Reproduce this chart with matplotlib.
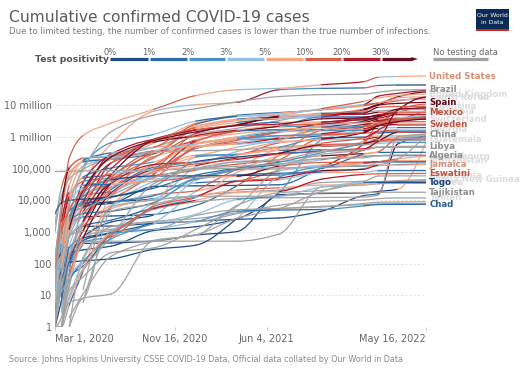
import datetime as dt
import numpy as np
import matplotlib
matplotlib.use("Agg")
import matplotlib.pyplot as plt
import matplotlib.dates as mdates
from matplotlib.collections import PathCollection
from matplotlib.colors import ListedColormap, BoundaryNorm, to_rgb
from matplotlib.patches import Rectangle, Polygon
from matplotlib.path import Path

# ---------------- data ----------------
knot_dates = ["2020-03-01", "2020-03-15", "2020-04-01", "2020-05-01", "2020-07-01",
              "2020-10-01", "2021-01-01", "2021-04-01", "2021-07-01", "2021-10-01",
              "2022-01-01", "2022-02-01", "2022-03-15", "2022-05-16"]

positivity_bins = [0, 1, 2, 3, 5, 10, 20, 30, 100]
positivity_labels = ["0%", "1%", "2%", "3%", "5%", "10%", "20%", "30%"]

ytick_values = [1, 10, 100, 1000, 10000, 100000, 1000000, 10000000]
ytick_labels = ["1", "10", "100", "1,000", "10,000", "100,000", "1 million", "10 million"]
xtick_dates = ["2020-03-01", "2020-11-16", "2021-06-04", "2022-05-16"]
xtick_labels = ["Mar 1, 2020", "Nov 16, 2020", "Jun 4, 2021", "May 16, 2022"]

# --- labelled countries (cumulative cases, test positivity %) ---
united_states = [70, 3.5e3, 215e3, 1.1e6, 2.7e6, 7.3e6, 20e6, 30.6e6, 33.7e6, 43.8e6, 54.9e6, 75.4e6, 79.6e6, 82.6e6]
united_states_pos = [None, 10, 15, 12, 6, 5, 12, 5, 3, 7, 20, 12, 3, 7]
brazil = [2, 200, 6.8e3, 92e3, 1.45e6, 4.8e6, 7.7e6, 12.8e6, 18.6e6, 21.4e6, 22.3e6, 25.5e6, 29.4e6, 30.7e6]
brazil_pos = None
spain = [84, 7.8e3, 102e3, 213e3, 250e3, 780e3, 1.93e6, 3.3e6, 3.8e6, 4.96e6, 7.46e6, 10.1e6, 11.3e6, 12.2e6]
spain_pos = [None, None, 30, 12, 3, 10, 12, 6, 5, 3, 14, 35, 30, 40]
mexico = [5, 41, 1.2e3, 20e3, 232e3, 750e3, 1.43e6, 2.25e6, 2.52e6, 3.68e6, 3.98e6, 4.94e6, 5.6e6, 5.75e6]
mexico_pos = [None, None, 8, 35, 45, 40, 45, 30, 25, 30, 40, 50, 20, 15]
sweden = [14, 1e3, 4.9e3, 21e3, 69e3, 94e3, 437e3, 830e3, 1.09e6, 1.15e6, 1.35e6, 2.2e6, 2.48e6, 2.5e6]
sweden_pos = [None, None, 15, 12, 10, 3, 12, 9, 2, 2, 15, 30, 20, 15]
china = [80e3, 81e3, 82e3, 84e3, 85e3, 90.5e3, 96e3, 101e3, 104e3, 108e3, 125e3, 130e3, 200e3, 1.2e6]
china_pos = None
libya = [None, None, 10, 61, 700, 33e3, 100e3, 165e3, 190e3, 340e3, 390e3, 460e3, 495e3, 502e3]
libya_pos = None
algeria = [1, 48, 716, 4.1e3, 14e3, 51e3, 99.6e3, 117e3, 140e3, 204e3, 219e3, 254e3, 265e3, 266e3]
algeria_pos = None
jamaica = [None, 13, 36, 470, 700, 6.4e3, 13e3, 40e3, 50e3, 85e3, 95e3, 126e3, 129e3, 133e3]
jamaica_pos = [None, None, None, 5, 2, 15, 10, 20, 12, 25, 30, 20, 8, 8]
eswatini = [None, 1, 9, 100, 800, 5.4e3, 9.9e3, 17.4e3, 19e3, 46e3, 65e3, 68e3, 69e3, 70e3]
eswatini_pos = [None, None, None, 3, 10, 10, 20, 5, 8, 25, 20, 15, 12, 15]
togo = [1, 1, 34, 120, 600, 1.8e3, 3.6e3, 10.5e3, 13.4e3, 26e3, 36e3, 36.8e3, 36.9e3, 37e3]
togo_pos = [None, None, None, 3, 2, 2, 3, 3, 2, 3, 3, 1, 0.5, 0.5]
tajikistan = [None, None, None, 15, 6.2e3, 10e3, 13.3e3, 13.3e3, 13.7e3, 17e3, 17.5e3, 17.7e3, 17.8e3, 17.8e3]
tajikistan_pos = None
chad = [None, None, 7, 73, 870, 1.2e3, 2.1e3, 4.5e3, 4.9e3, 5.1e3, 6.6e3, 7.3e3, 7.4e3, 7.4e3]
chad_pos = [None, None, None, 8, 5, 2, 3, 2, 1, 1, 2, 1.5, 1.5, 1.5]

# --- countries whose labels are hidden behind others (faded) ---
united_kingdom = [35, 1.4e3, 30e3, 180e3, 315e3, 470e3, 2.5e6, 4.35e6, 4.85e6, 7.8e6, 13.2e6, 16.8e6, 20.0e6, 22.2e6]
united_kingdom_pos = [None, None, 12, 8, 1, 3, 10, 1, 3, 4, 12, 8, 6, 8]
south_korea = [3.7e3, 8.2e3, 9.9e3, 10.8e3, 12.9e3, 23.9e3, 61.8e3, 103e3, 158e3, 316e3, 635e3, 880e3, 6.9e6, 17.8e6]
south_korea_pos = [2, 1.5, 1, 0.5, 0.5, 0.5, 1, 1, 1.5, 2, 2.5, 15, 40, 30]
argentina = [None, 45, 1.05e3, 4.4e3, 65e3, 780e3, 1.63e6, 2.38e6, 4.5e6, 5.26e6, 5.6e6, 8.5e6, 9.0e6, 9.1e6]
argentina_pos = [None, None, 3, 4, 20, 50, 20, 20, 35, 5, 40, 50, 15, 10]
colombia = [None, 34, 1.07e3, 7e3, 98e3, 835e3, 1.64e6, 2.43e6, 4.2e6, 4.96e6, 5.14e6, 5.9e6, 6.08e6, 6.09e6]
colombia_pos = [None, None, 3, 5, 15, 20, 25, 15, 30, 5, 20, 30, 10, 5]
switzerland = [24, 2.2e3, 17.7e3, 29.7e3, 31.7e3, 53e3, 455e3, 590e3, 703e3, 844e3, 1.37e6, 2.24e6, 3.0e6, 3.6e6]
switzerland_pos = [None, None, 20, 3, 1, 3, 15, 6, 3, 5, 30, 40, 35, 30]
georgia = [3, 33, 110, 540, 940, 6.8e3, 230e3, 283e3, 389e3, 629e3, 935e3, 1.45e6, 1.64e6, 1.65e6]
georgia_pos = [None, 1, 1, 1, 0.5, 2, 8, 2, 5, 8, 12, 25, 10, 3]
guatemala = [None, 1, 39, 640, 17e3, 93e3, 139e3, 194e3, 303e3, 560e3, 625e3, 750e3, 810e3, 845e3]
guatemala_pos = [None, None, None, 10, 40, 20, 15, 15, 25, 30, 10, 40, 15, 10]
luxembourg = [None, 77, 2.2e3, 3.8e3, 4.5e3, 8.3e3, 46e3, 63e3, 71e3, 77e3, 100e3, 160e3, 200e3, 245e3]
luxembourg_pos = [None, 5, 5, 2, 1, 1, 2, 2, 1, 1, 3, 5, 10, 8]
afghanistan = [1, 16, 174, 2.2e3, 31.5e3, 39.3e3, 52e3, 56.9e3, 118e3, 155e3, 158e3, 164e3, 176e3, 179e3]
afghanistan_pos = [None, None, None, None, 40, 5, 10, 8, 40, 10, 10, 20, 10, 8]
mauritania = [None, 1, 6, 8, 4.5e3, 7.5e3, 14e3, 18e3, 21e3, 36e3, 40e3, 58e3, 58.6e3, 58.7e3]
mauritania_pos = None
guinea = [None, 1, 22, 1.5e3, 5.4e3, 10.7e3, 13.7e3, 21e3, 24.6e3, 30e3, 31e3, 35.6e3, 36.4e3, 36.5e3]
guinea_pos = [None, None, None, None, 15, 5, 3, 5, 10, 8, 5, 8, 2, 1]
papua_new_guinea = [None, None, 1, 8, 11, 540, 780, 6.9e3, 17.2e3, 20.3e3, 35e3, 37.5e3, 41.5e3, 44e3]
papua_new_guinea_pos = None
yemen = [None, None, None, 6, 1.1e3, 2.04e3, 2.1e3, 3.8e3, 6.9e3, 9.3e3, 10.1e3, 11.2e3, 11.8e3, 11.8e3]
yemen_pos = None

# --- other countries (unlabelled) ---
italy = [1.7e3, 24.7e3, 110e3, 206e3, 240e3, 314e3, 2.1e6, 3.6e6, 4.26e6, 4.67e6, 6.4e6, 10.9e6, 13.6e6, 17.1e6]
italy_pos = [None, None, 15, 5, 1, 2, 10, 7, 1, 1, 12, 15, 15, 15]
france = [130, 5.4e3, 57e3, 168e3, 200e3, 620e3, 2.7e6, 4.8e6, 5.8e6, 7.1e6, 10.3e6, 19.1e6, 23.4e6, 29.3e6]
france_pos = [None, None, None, 5, 2, 6, 6, 8, 1, 1, 15, 30, 20, 25]
india = [3, 107, 1.8e3, 35e3, 600e3, 6.4e6, 10.3e6, 12.2e6, 30.5e6, 33.8e6, 34.9e6, 41.5e6, 43.0e6, 43.1e6]
india_pos = [None, 1, 2, 4, 6, 8, 3, 5, 20, 2, 1, 15, 1, 0.5]
germany = [117, 4.8e3, 71.8e3, 161e3, 195e3, 290e3, 1.76e6, 2.85e6, 3.73e6, 4.23e6, 7.15e6, 10.0e6, 18.2e6, 25.9e6]
germany_pos = [None, None, 8, 5, 1, 1, 12, 8, 1, 3, 20, 30, 40, 35]
russia = [None, 63, 2.3e3, 114e3, 654e3, 1.18e6, 3.13e6, 4.5e6, 5.5e6, 7.4e6, 10.5e6, 11.5e6, 17.2e6, 18.1e6]
russia_pos = [None, 0.5, 0.5, 3, 2, 2, 4, 1.5, 3, 5, 4, 10, 12, 5]
turkey = [None, 18, 13.5e3, 120e3, 200e3, 320e3, 2.2e6, 3.3e6, 5.4e6, 7.3e6, 9.5e6, 11.7e6, 14.6e6, 15.05e6]
turkey_pos = [None, None, 15, 5, 3, 4, 6, 8, 5, 5, 7, 10, 8, 4]
japan = [240, 800, 2.3e3, 14e3, 18.7e3, 83e3, 236e3, 470e3, 800e3, 1.7e6, 1.73e6, 2.7e6, 5.9e6, 8.3e6]
japan_pos = [None, 5, 8, 6, 1, 3, 8, 5, 4, 1, 1, 15, 20, 15]
iran = [980, 13.9e3, 47.6e3, 94.6e3, 230e3, 460e3, 1.23e6, 1.86e6, 3.25e6, 5.6e6, 6.2e6, 6.5e6, 7.1e6, 7.23e6]
iran_pos = None
peru = [None, 38, 1.06e3, 36.9e3, 285e3, 814e3, 1.02e6, 1.55e6, 2.07e6, 2.18e6, 2.3e6, 3.24e6, 3.54e6, 3.57e6]
peru_pos = [None, None, None, 25, 20, 20, 10, 15, 8, 2, 5, 30, 10, 3]
south_africa = [None, 51, 1.35e3, 5.6e3, 151e3, 674e3, 1.06e6, 1.55e6, 2.14e6, 2.9e6, 3.46e6, 3.6e6, 3.7e6, 3.85e6]
south_africa_pos = [None, 3, 5, 3, 25, 10, 30, 8, 25, 5, 30, 15, 5, 20]
philippines = [3, 140, 2.3e3, 8.5e3, 37.5e3, 314e3, 474e3, 771e3, 1.41e6, 2.55e6, 2.84e6, 3.55e6, 3.67e6, 3.69e6]
philippines_pos = [None, None, 15, 12, 6, 10, 5, 15, 13, 20, 10, 35, 5, 2]
indonesia = [None, 117, 1.68e3, 10.5e3, 57.8e3, 292e3, 751e3, 1.51e6, 2.2e6, 4.22e6, 4.26e6, 4.35e6, 5.95e6, 6.05e6]
indonesia_pos = [None, None, None, 15, 12, 15, 25, 15, 40, 2, 1, 15, 20, 2]
pakistan = [4, 53, 2.0e3, 16.1e3, 213e3, 313e3, 482e3, 664e3, 961e3, 1.24e6, 1.29e6, 1.46e6, 1.52e6, 1.53e6]
pakistan_pos = [None, None, 10, 12, 15, 3, 6, 10, 4, 5, 1, 10, 2, 0.5]
israel = [7, 200, 5.6e3, 16e3, 26e3, 240e3, 440e3, 834e3, 841e3, 1.27e6, 1.38e6, 2.9e6, 3.75e6, 4.1e6]
israel_pos = [None, 3, 8, 4, 3, 10, 6, 1, 0.5, 3, 7, 25, 15, 10]
australia = [27, 300, 4.9e3, 6.8e3, 7.9e3, 27.1e3, 28.4e3, 29.3e3, 30.7e3, 107e3, 610e3, 2.5e6, 3.4e6, 6.7e6]
australia_pos = [None, 1, 1, 0.3, 0.2, 0.1, 0.1, 0.1, 0.1, 1, 20, 10, 15, 15]
new_zealand = [None, 8, 708, 1.48e3, 1.53e3, 1.85e3, 2.16e3, 2.5e3, 2.75e3, 4.5e3, 14e3, 16e3, 585e3, 1.0e6]
new_zealand_pos = [None, 0.5, 1, 0.3, 0.1, 0.1, 0.1, 0.1, 0.1, 0.3, 0.2, 1, 30, 20]
vietnam = [16, 56, 212, 270, 355, 1.1e3, 1.46e3, 2.6e3, 17.6e3, 790e3, 1.73e6, 2.2e6, 7.0e6, 10.7e6]
vietnam_pos = [None, 0.5, 0.3, 0.1, 0.1, 0.1, 0.1, 0.1, 0.5, 2, 3, 5, 15, 10]
taiwan = [40, 53, 329, 429, 447, 514, 799, 1.03e3, 14.9e3, 16.2e3, 17.0e3, 18.9e3, 22.0e3, 720e3]
taiwan_pos = [None, 0.5, 1, 0.5, 0.1, 0.1, 0.1, 0.2, 0.8, 0.1, 0.1, 0.2, 0.3, 5]
tanzania = [None, 1, 19, 480, 509, 509, 509, 509, 858, 26e3, 30e3, 33e3, 33.8e3, 33.9e3]
tanzania_pos = None
netherlands = [10, 1.1e3, 13.6e3, 39.3e3, 50.3e3, 130e3, 810e3, 1.25e6, 1.7e6, 2.0e6, 3.15e6, 4.4e6, 7.4e6, 8.1e6]
netherlands_pos = [None, None, 20, 10, 2, 10, 12, 8, 5, 6, 20, 35, 40, 30]
belgium = [2, 690, 13e3, 49.5e3, 61.5e3, 120e3, 650e3, 880e3, 1.08e6, 1.25e6, 2.07e6, 3.2e6, 3.75e6, 4.1e6]
belgium_pos = [None, None, 20, 8, 1, 6, 6, 6, 2, 5, 25, 35, 20, 15]
portugal = [None, 245, 8.25e3, 25e3, 42e3, 76e3, 427e3, 820e3, 880e3, 1.07e6, 1.39e6, 2.7e6, 3.35e6, 4.1e6]
portugal_pos = [None, None, 8, 3, 2, 3, 15, 1.5, 3, 1, 8, 15, 8, 20]
canada = [24, 300, 9.5e3, 54e3, 104e3, 160e3, 580e3, 980e3, 1.41e6, 1.63e6, 2.2e6, 3.0e6, 3.35e6, 3.8e6]
canada_pos = [None, 3, 5, 7, 1, 2, 5, 5, 2, 3, 25, 15, 10, 12]
chile = [None, 75, 3.0e3, 16e3, 280e3, 465e3, 610e3, 1.0e6, 1.56e6, 1.65e6, 1.8e6, 2.4e6, 3.3e6, 3.6e6]
chile_pos = [None, None, 8, 10, 20, 5, 7, 8, 4, 2, 5, 25, 15, 10]
poland = [None, 119, 2.5e3, 13e3, 34e3, 95e3, 1.3e6, 2.3e6, 2.88e6, 2.9e6, 4.1e6, 4.7e6, 5.9e6, 6.0e6]
poland_pos = [None, 3, 5, 2, 2, 5, 15, 20, 1, 5, 25, 35, 30, 8]
czechia = [None, 250, 3.3e3, 7.7e3, 12e3, 66e3, 720e3, 1.52e6, 1.67e6, 1.69e6, 2.48e6, 3.0e6, 3.8e6, 3.9e6]
czechia_pos = [None, 3, 5, 2, 1, 10, 25, 12, 1, 2, 20, 30, 20, 10]
ukraine = [None, 3, 800, 10.4e3, 45e3, 215e3, 1.09e6, 1.62e6, 2.29e6, 2.5e6, 3.64e6, 3.9e6, 5.0e6, 5.0e6]
ukraine_pos = [None, None, None, 5, 5, 10, 15, 20, 5, 10, 20, 30, 25, 25]
malaysia = [29, 428, 2.9e3, 6.0e3, 8.6e3, 11.2e3, 113e3, 345e3, 743e3, 2.27e6, 2.76e6, 2.85e6, 3.94e6, 4.47e6]
malaysia_pos = [None, 2, 5, 2, 0.3, 0.5, 3, 3, 8, 8, 3, 5, 10, 3]
thailand = [42, 114, 1.7e3, 2.95e3, 3.17e3, 3.56e3, 6.9e3, 28.9e3, 264e3, 1.6e6, 2.22e6, 2.41e6, 3.24e6, 4.3e6]
thailand_pos = [None, 2, 3, 1, 0.1, 0.1, 1, 1, 10, 15, 5, 10, 15, 15]
bangladesh = [None, 3, 54, 8.2e3, 149e3, 364e3, 514e3, 600e3, 913e3, 1.56e6, 1.58e6, 1.85e6, 1.95e6, 1.95e6]
bangladesh_pos = [None, None, None, 12, 20, 12, 6, 8, 25, 5, 2, 30, 3, 1]
nepal = [1, 1, 5, 57, 14e3, 78e3, 260e3, 277e3, 640e3, 795e3, 827e3, 970e3, 978e3, 979e3]
nepal_pos = [None, None, None, 1, 5, 15, 5, 2, 15, 8, 3, 25, 5, 1]
kenya = [None, 3, 81, 396, 6.4e3, 38.5e3, 96.5e3, 137e3, 185e3, 249e3, 295e3, 322e3, 323e3, 324e3]
kenya_pos = [None, None, 3, 2, 5, 3, 5, 15, 10, 5, 30, 5, 1, 1]
ethiopia = [None, 5, 29, 133, 6.0e3, 73.9e3, 124e3, 211e3, 276e3, 353e3, 422e3, 467e3, 470e3, 471e3]
ethiopia_pos = [None, None, 2, 1, 3, 5, 5, 20, 5, 15, 20, 10, 2, 2]
nigeria = [1, 2, 139, 1.9e3, 25.7e3, 58.8e3, 87.5e3, 162e3, 167e3, 205e3, 243e3, 253e3, 255e3, 256e3]
nigeria_pos = [None, None, None, 10, 15, 3, 10, 3, 2, 4, 5, 2, 1, 1]
ghana = [None, 6, 195, 2.07e3, 18.1e3, 46.6e3, 54.8e3, 90.3e3, 96.7e3, 127e3, 145e3, 157e3, 160e3, 161e3]
ghana_pos = [None, None, 2, 3, 10, 3, 3, 5, 5, 5, 15, 5, 3, 2]
senegal = [1, 24, 190, 1.1e3, 6.9e3, 14.9e3, 19.6e3, 38.9e3, 44.5e3, 73.8e3, 75.6e3, 85.0e3, 85.8e3, 86.0e3]
senegal_pos = [None, None, 8, 8, 6, 3, 10, 5, 20, 3, 5, 3, 1, 1]
uganda = [None, None, 44, 83, 900, 8.3e3, 35.2e3, 40.7e3, 84.6e3, 123e3, 144e3, 161e3, 164e3, 164e3]
uganda_pos = [None, None, None, 1, 0.5, 3, 3, 1, 10, 3, 5, 2, 1, 1]
cuba = [None, 4, 212, 1.5e3, 2.35e3, 5.7e3, 12.2e3, 76e3, 188e3, 878e3, 965e3, 1.06e6, 1.08e6, 1.1e6]
cuba_pos = [None, None, 5, 3, 1, 1, 2, 5, 8, 15, 3, 5, 3, 3]
uruguay = [None, 4, 320, 640, 936, 2.0e3, 19.1e3, 96.9e3, 375e3, 389e3, 410e3, 700e3, 880e3, 903e3]
uruguay_pos = [None, None, 3, 2, 0.5, 0.5, 3, 10, 5, 1, 10, 20, 10, 15]
bolivia = [None, 10, 115, 1.1e3, 33.2e3, 133e3, 160e3, 273e3, 441e3, 502e3, 580e3, 860e3, 895e3, 903e3]
bolivia_pos = [None, None, None, 20, 40, 20, 20, 25, 15, 5, 35, 30, 5, 3]
mongolia = [None, 1, 14, 38, 220, 313, 1.2e3, 6.5e3, 97e3, 278e3, 383e3, 470e3, 469e3, 469e3]
mongolia_pos = None
sri_lanka = [1, 18, 146, 690, 2.05e3, 3.38e3, 43.3e3, 93e3, 255e3, 519e3, 590e3, 615e3, 660e3, 663e3]
sri_lanka_pos = [None, 2, 3, 1, 0.5, 0.5, 3, 2, 5, 8, 5, 8, 4, 2]
iraq = [19, 110, 694, 2.1e3, 51.5e3, 350e3, 596e3, 870e3, 1.4e6, 2.0e6, 2.09e6, 2.26e6, 2.32e6, 2.33e6]
iraq_pos = [None, 3, 5, 3, 15, 10, 3, 8, 12, 5, 2, 10, 4, 2]
saudi_arabia = [None, 103, 1.56e3, 22.8e3, 194e3, 335e3, 363e3, 390e3, 482e3, 546e3, 554e3, 683e3, 748e3, 760e3]
saudi_arabia_pos = None
kazakhstan = [None, 9, 343, 3.4e3, 21.8e3, 108e3, 160e3, 260e3, 463e3, 930e3, 987e3, 1.3e6, 1.39e6, 1.39e6]
kazakhstan_pos = [None, 1, 1, 3, 10, 1, 2, 3, 8, 2, 1, 8, 1, 0.5]
norway = [19, 1.2e3, 4.6e3, 7.8e3, 8.9e3, 13.7e3, 50e3, 94e3, 132e3, 188e3, 385e3, 715e3, 1.37e6, 1.43e6]
norway_pos = [None, 5, 5, 2, 0.5, 1, 2, 2, 1, 4, 10, 25, 30, 15]
denmark = [4, 860, 3.1e3, 9.2e3, 12.8e3, 27.5e3, 165e3, 230e3, 300e3, 358e3, 740e3, 1.62e6, 2.94e6, 3.0e6]
denmark_pos = [None, 3, 5, 2, 0.5, 1, 2, 0.5, 0.5, 1, 5, 15, 25, 10]
singapore = [106, 226, 926, 17.1e3, 44.1e3, 57.8e3, 58.5e3, 60.3e3, 62.6e3, 99.4e3, 279e3, 336e3, 906e3, 1.22e6]
singapore_pos = [None, 0.5, 1, 3, 2, 0.3, 0.1, 0.1, 0.1, 2, 1, 5, 10, 8]
hong_kong = [100, 150, 766, 1.04e3, 1.2e3, 5.1e3, 8.8e3, 11.4e3, 11.9e3, 12.2e3, 12.6e3, 14.5e3, 1.0e6, 1.19e6]
hong_kong_pos = None
cambodia = [1, 7, 109, 122, 141, 280, 382, 2.7e3, 54e3, 111e3, 120e3, 122e3, 133e3, 136e3]
cambodia_pos = [None, 0.5, 1, 0.3, 0.1, 0.1, 0.1, 0.5, 3, 2, 1, 2, 3, 1]
niger = [None, None, 34, 719, 1.07e3, 1.2e3, 3.3e3, 5.0e3, 5.5e3, 6.1e3, 7.9e3, 8.6e3, 8.8e3, 8.9e3]
niger_pos = None
burundi = [None, None, 2, 11, 170, 500, 810, 2.7e3, 5.4e3, 18.8e3, 37.7e3, 38.0e3, 38.7e3, 41.9e3]
burundi_pos = None
sierra_leone = [None, None, 1, 155, 1.46e3, 2.14e3, 2.64e3, 3.96e3, 5.4e3, 6.4e3, 7.2e3, 7.6e3, 7.7e3, 7.7e3]
sierra_leone_pos = None

other_series = [
    (italy, italy_pos), (france, france_pos), (india, india_pos), (germany, germany_pos),
    (russia, russia_pos), (turkey, turkey_pos), (japan, japan_pos), (iran, iran_pos),
    (peru, peru_pos), (south_africa, south_africa_pos), (philippines, philippines_pos),
    (indonesia, indonesia_pos), (pakistan, pakistan_pos), (israel, israel_pos),
    (australia, australia_pos), (new_zealand, new_zealand_pos), (vietnam, vietnam_pos),
    (taiwan, taiwan_pos), (tanzania, tanzania_pos), (netherlands, netherlands_pos),
    (belgium, belgium_pos), (portugal, portugal_pos), (canada, canada_pos), (chile, chile_pos),
    (poland, poland_pos), (czechia, czechia_pos), (ukraine, ukraine_pos), (malaysia, malaysia_pos),
    (thailand, thailand_pos), (bangladesh, bangladesh_pos), (nepal, nepal_pos), (kenya, kenya_pos),
    (ethiopia, ethiopia_pos), (nigeria, nigeria_pos), (ghana, ghana_pos), (senegal, senegal_pos),
    (uganda, uganda_pos), (cuba, cuba_pos), (uruguay, uruguay_pos), (bolivia, bolivia_pos),
    (mongolia, mongolia_pos), (sri_lanka, sri_lanka_pos), (iraq, iraq_pos),
    (saudi_arabia, saudi_arabia_pos), (kazakhstan, kazakhstan_pos), (norway, norway_pos),
    (denmark, denmark_pos), (singapore, singapore_pos), (hong_kong, hong_kong_pos),
    (cambodia, cambodia_pos), (niger, niger_pos),
    (burundi, burundi_pos), (sierra_leone, sierra_leone_pos),
]
faded_series = [
    ("United Kingdom", united_kingdom, united_kingdom_pos), ("South Korea", south_korea, south_korea_pos),
    ("Argentina", argentina, argentina_pos), ("Colombia", colombia, colombia_pos),
    ("Switzerland", switzerland, switzerland_pos), ("Georgia", georgia, georgia_pos),
    ("Guatemala", guatemala, guatemala_pos), ("Luxembourg", luxembourg, luxembourg_pos),
    ("Afghanistan", afghanistan, afghanistan_pos), ("Mauritania", mauritania, mauritania_pos),
    ("Guinea", guinea, guinea_pos), ("Papua New Guinea", papua_new_guinea, papua_new_guinea_pos),
    ("Yemen", yemen, yemen_pos),
]
shown_series = [
    ("United States", united_states, united_states_pos), ("Brazil", brazil, brazil_pos),
    ("Spain", spain, spain_pos), ("Mexico", mexico, mexico_pos), ("Sweden", sweden, sweden_pos),
    ("China", china, china_pos), ("Libya", libya, libya_pos), ("Algeria", algeria, algeria_pos),
    ("Jamaica", jamaica, jamaica_pos), ("Eswatini", eswatini, eswatini_pos), ("Togo", togo, togo_pos),
    ("Tajikistan", tajikistan, tajikistan_pos), ("Chad", chad, chad_pos),
]

# ---------------- styling ----------------
bin_colors = ["#1d4b86", "#2e6ba6", "#4c92c3", "#92c1e0", "#f3a586", "#d5604c", "#b0192d", "#6b0a21"]
GRAY = "#a3a3a3"
cmap = ListedColormap(bin_colors)
norm = BoundaryNorm(positivity_bins, cmap.N)

W, H = 530, 374
fig = plt.figure(figsize=(W / 100, H / 100), dpi=100)
fig.patch.set_facecolor("white")
ax_l, ax_r, ax_t, ax_b = 55, 426, 73.4, 327
ax = fig.add_axes([ax_l / W, 1 - ax_b / H, (ax_r - ax_l) / W, (ax_b - ax_t) / H])

xk = mdates.date2num([dt.date.fromisoformat(d) for d in knot_dates])


def seg_color(p):
    return GRAY if p is None else cmap(norm(p))


def pchip_slopes(xs, ls):
    """Monotone (PCHIP) tangents used to draw smooth curves through the points."""
    n = len(xs)
    h = np.diff(xs)
    d = np.diff(ls) / h
    m = np.zeros(n)
    if n == 2:
        m[:] = d[0]
        return m
    for i in range(1, n - 1):
        if d[i - 1] * d[i] <= 0:
            m[i] = 0.0
        else:
            w1 = 2 * h[i] + h[i - 1]
            w2 = h[i] + 2 * h[i - 1]
            m[i] = (w1 + w2) / (w1 / d[i - 1] + w2 / d[i])
    m[0] = max(0.0, ((2 * h[0] + h[1]) * d[0] - h[0] * d[1]) / (h[0] + h[1]))
    m[-1] = max(0.0, ((2 * h[-1] + h[-2]) * d[-1] - h[-1] * d[-2]) / (h[-1] + h[-2]))
    if d[0] == 0:
        m[0] = 0
    elif m[0] > 3 * d[0]:
        m[0] = 3 * d[0]
    if d[-1] == 0:
        m[-1] = 0
    elif m[-1] > 3 * d[-1]:
        m[-1] = 3 * d[-1]
    return m


def draw_series(values, pos, z):
    idx = [i for i, v in enumerate(values) if v is not None]
    xs = np.array([xk[i] for i in idx])
    ls = np.log10([values[i] for i in idx])
    m = pchip_slopes(xs, ls)
    paths, cols = [], []
    for j in range(len(idx) - 1):
        x0, x1 = xs[j], xs[j + 1]
        h = x1 - x0
        verts = [(x0, 10 ** ls[j]),
                 (x0 + h / 3, 10 ** (ls[j] + m[j] * h / 3)),
                 (x1 - h / 3, 10 ** (ls[j + 1] - m[j + 1] * h / 3)),
                 (x1, 10 ** ls[j + 1])]
        paths.append(Path(verts, [Path.MOVETO, Path.CURVE4, Path.CURVE4, Path.CURVE4]))
        cols.append(seg_color(None if pos is None else pos[idx[j + 1]]))
    pc = PathCollection(paths, facecolors="none", edgecolors=cols, linewidths=0.9,
                        transform=ax.transData, zorder=z)
    pc.set_capstyle("round")
    ax.add_collection(pc, autolim=False)
    return cols[-1]


def darker(c, f=0.88):
    r, g, b = to_rgb(c)
    return (r * f, g * f, b * f)


for vals, pos in other_series:
    draw_series(vals, pos, 2)
for name, vals, pos in faded_series:
    draw_series(vals, pos, 2)
    ax.annotate(name, xy=(1, vals[-1]), xycoords=("axes fraction", "data"),
                xytext=(2.4, 0), textcoords="offset points", va="center", ha="left",
                fontsize=6.2, fontweight="bold", color="#dcdcdc", annotation_clip=False, zorder=3)
for name, vals, pos in shown_series:
    last = draw_series(vals, pos, 3)
    lab_col = "#8f8f8f" if pos is None else darker(last)
    ax.annotate(name, xy=(1, vals[-1]), xycoords=("axes fraction", "data"),
                xytext=(2.4, 0), textcoords="offset points", va="center", ha="left",
                fontsize=6.2, fontweight="bold", color=lab_col, annotation_clip=False, zorder=5)

ax.set_yscale("log")
ax.set_ylim(1, 1e8)
ax.set_xlim(mdates.date2num(dt.date.fromisoformat(xtick_dates[0])),
            mdates.date2num(dt.date.fromisoformat(xtick_dates[-1])))
ax.set_yticks(ytick_values)
ax.set_yticklabels(ytick_labels)
ax.yaxis.set_minor_locator(matplotlib.ticker.NullLocator())
ax.set_xticks(mdates.date2num([dt.date.fromisoformat(d) for d in xtick_dates]))
ax.set_xticklabels(xtick_labels)
xl = ax.get_xticklabels()
xl[0].set_ha("left")
xl[-1].set_ha("right")
ax.tick_params(axis="y", length=0, pad=2.2, labelsize=7, labelcolor="#666666")
ax.tick_params(axis="x", length=2.5, width=0.6, color="#bbbbbb", pad=2.2, labelsize=7,
               labelcolor="#666666")
ax.grid(axis="y", color="#dddddd", linestyle=(0, (2.5, 2.5)), linewidth=0.6, zorder=0)
ax.set_axisbelow(True)
for s in ax.spines.values():
    s.set_visible(False)
ax.set_facecolor("none")

# ---------------- overlay: titles, legend, logo ----------------
ov = fig.add_axes([0, 0, 1, 1], zorder=-1)
ov.set_xlim(0, W)
ov.set_ylim(H, 0)
ov.axis("off")

ov.text(9, 22, "Cumulative confirmed COVID-19 cases", fontsize=11.2, color="#5b5b5b",
        va="baseline", ha="left")
ov.text(9, 34, "Due to limited testing, the number of confirmed cases is lower than the true "
        "number of infections.", fontsize=6.1, color="#7a7a7a", va="baseline", ha="left")
ov.text(9, 362, "Source: Johns Hopkins University CSSE COVID-19 Data, Official data collated "
        "by Our World in Data", fontsize=5.75, color="#8a8a8a", va="baseline", ha="left")

# legend
leg_x = [110, 149, 188, 226, 265, 304, 342, 381, 418]
leg_y = 59
for i in range(len(bin_colors)):
    x0 = leg_x[i] + (0.6 if i > 0 else 0)
    x1 = leg_x[i + 1] - (0.6 if i < len(bin_colors) - 1 else 6)
    ov.plot([x0, x1], [leg_y, leg_y], color=bin_colors[i], lw=2.3, solid_capstyle="butt")
ov.add_patch(Polygon([[leg_x[-1] - 6.5, leg_y - 2], [leg_x[-1], leg_y], [leg_x[-1] - 6.5, leg_y + 2]],
                     closed=True, color=bin_colors[-1], lw=0))
for i, lab in enumerate(positivity_labels):
    ov.text(leg_x[i], 54.5, lab, fontsize=6, color="#666666", ha="center", va="baseline")
ov.text(109, 59, "Test positivity", fontsize=6.7, fontweight="bold", color="#555555",
        ha="right", va="center")
ov.text(433, 54.5, "No testing data", fontsize=6, color="#666666", ha="left", va="baseline")
ov.plot([433, 488], [leg_y, leg_y], color=GRAY, lw=2.3, solid_capstyle="butt")

# logo
ov.add_patch(Rectangle((476, 9), 33, 20, color="#0b2a55", lw=0))
ov.add_patch(Rectangle((476, 29), 33, 2, color="#ce261e", lw=0))
ov.text(492.5, 15.5, "Our World", fontsize=4.4, color="white", ha="center", va="center")
ov.text(492.5, 22.5, "in Data", fontsize=4.4, color="white", ha="center", va="center")

fig.savefig("out.png", dpi=100)
